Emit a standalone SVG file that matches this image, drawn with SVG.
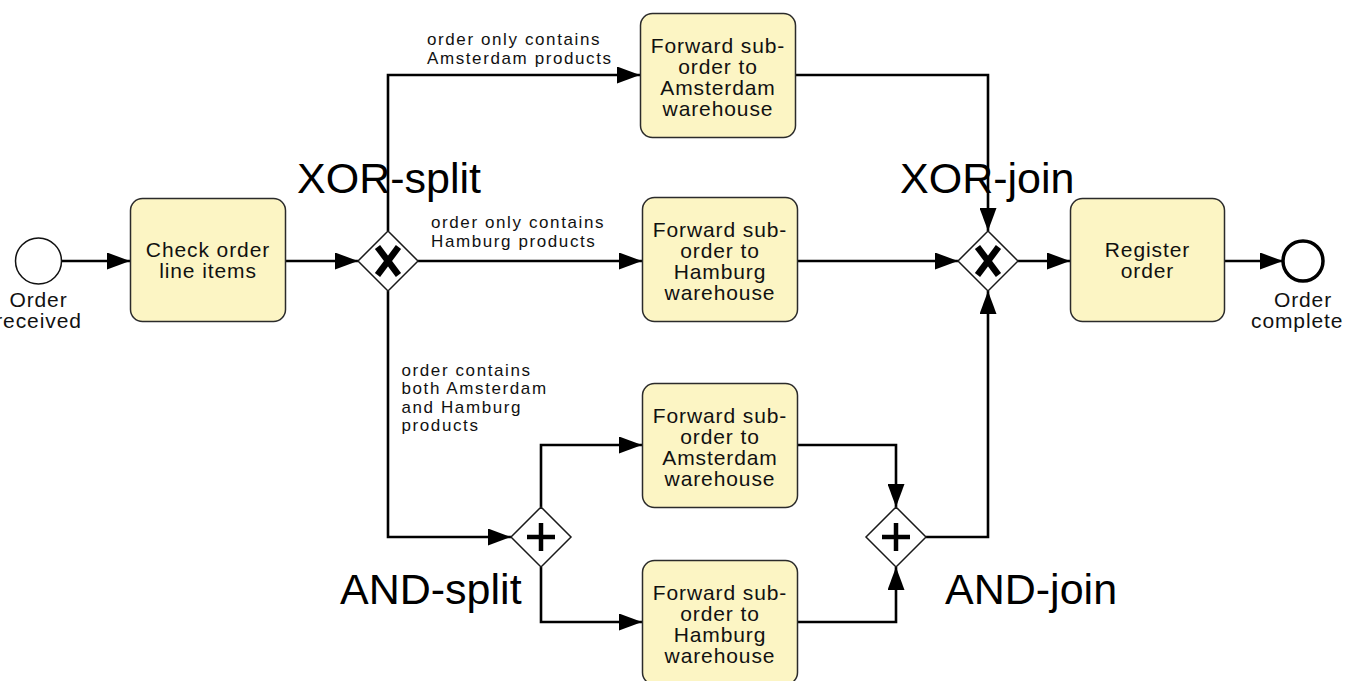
<svg xmlns="http://www.w3.org/2000/svg" width="1345" height="681" viewBox="0 0 1345 681">
  <style>
    .task { fill: #fcf5c4; stroke: #2b2b2b; stroke-width: 1.5; }
    .gw { fill: #ffffff; stroke: #1a1a1a; stroke-width: 1.5; }
    .flow { fill: none; stroke: #000000; stroke-width: 2.6; marker-end: url(#arrow); }
    .tt { font-family: "Liberation Sans", Arial, sans-serif; font-size: 21px; letter-spacing: 0.9px; fill: #111; text-anchor: middle; }
    .cond { font-family: "Liberation Sans", Arial, sans-serif; font-size: 17px; letter-spacing: 1.6px; fill: #111; }
    .big { font-family: "Liberation Sans", Arial, sans-serif; font-size: 43px; fill: #000; }
    .xmark { stroke: #000; stroke-width: 6.5; stroke-linecap: butt; }
    .pmark { stroke: #000; stroke-width: 4.5; }
  </style>
  <defs>
    <marker id="arrow" markerUnits="userSpaceOnUse" viewBox="0 0 23 17" refX="23" refY="8.5" markerWidth="23" markerHeight="17" orient="auto">
      <path d="M0,0 L23,8.5 L0,17 Z" fill="#000"/>
    </marker>
  </defs>

  <rect width="1345" height="681" fill="#ffffff"/>

  <!-- sequence flows -->
  <g id="connectors">
    <path class="flow" d="M61.5,261 H130"/>
    <path class="flow" d="M286,261 H358"/>
    <path class="flow" d="M388,231 V75 H640"/>
    <path class="flow" d="M418,261 H642"/>
    <path class="flow" d="M388,291 V537 H511"/>
    <path class="flow" d="M541,507 V445 H642"/>
    <path class="flow" d="M541,567 V622 H642"/>
    <path class="flow" d="M795,75 H988 V231"/>
    <path class="flow" d="M797,261 H958"/>
    <path class="flow" d="M797,445 H896 V507"/>
    <path class="flow" d="M797,622 H896 V567"/>
    <path class="flow" d="M926,537 H988 V291"/>
    <path class="flow" d="M1018,261 H1070"/>
    <path class="flow" d="M1224,261 H1283"/>
  </g>

  <!-- branch conditions -->
  <g id="conditions">
    <text class="cond" x="427" y="45">order only contains</text>
    <text class="cond" x="427" y="63.5">Amsterdam products</text>
    <text class="cond" x="431" y="228">order only contains</text>
    <text class="cond" x="431" y="246.5">Hamburg products</text>
    <text class="cond" x="401.5" y="376">order contains</text>
    <text class="cond" x="401.5" y="394.3">both Amsterdam</text>
    <text class="cond" x="401.5" y="412.6">and Hamburg</text>
    <text class="cond" x="401.5" y="430.9">products</text>
  </g>

  <g id="start">
    <circle cx="38.5" cy="261" r="23" fill="#fff" stroke="#111" stroke-width="1.5"/>
    <text class="tt" x="38.5" y="307">Order</text>
    <text class="tt" x="38.5" y="328">received</text>
  </g>

  <g id="checkItems">
    <rect class="task" x="130.5" y="198.5" width="155" height="123" rx="12"/>
    <text class="tt" x="208" y="257">Check order</text>
    <text class="tt" x="208" y="278">line items</text>
  </g>

  <g id="xorSplit">
    <polygon class="gw" points="388,231 418,261 388,291 358,261"/>
    <line class="xmark" x1="377.5" y1="247" x2="398.5" y2="275"/>
    <line class="xmark" x1="398.5" y1="247" x2="377.5" y2="275"/>
  </g>

  <g id="fwdAmsterdam1">
    <rect class="task" x="640.5" y="13.5" width="155" height="124" rx="12"/>
    <text class="tt" x="718" y="53">Forward sub-</text>
    <text class="tt" x="718" y="74">order to</text>
    <text class="tt" x="718" y="95">Amsterdam</text>
    <text class="tt" x="718" y="116">warehouse</text>
  </g>

  <g id="fwdHamburg1">
    <rect class="task" x="642.5" y="197.5" width="155" height="124" rx="12"/>
    <text class="tt" x="720" y="237">Forward sub-</text>
    <text class="tt" x="720" y="258">order to</text>
    <text class="tt" x="720" y="279">Hamburg</text>
    <text class="tt" x="720" y="300">warehouse</text>
  </g>

  <g id="andSplit">
    <polygon class="gw" points="541,507 571,537 541,567 511,537"/>
    <line class="pmark" x1="527" y1="537" x2="555" y2="537"/>
    <line class="pmark" x1="541" y1="523" x2="541" y2="551"/>
  </g>

  <g id="fwdAmsterdam2">
    <rect class="task" x="642.5" y="383.5" width="155" height="124" rx="12"/>
    <text class="tt" x="720" y="423">Forward sub-</text>
    <text class="tt" x="720" y="444">order to</text>
    <text class="tt" x="720" y="465">Amsterdam</text>
    <text class="tt" x="720" y="486">warehouse</text>
  </g>

  <g id="fwdHamburg2">
    <rect class="task" x="642.5" y="560.5" width="155" height="124" rx="12"/>
    <text class="tt" x="720" y="600">Forward sub-</text>
    <text class="tt" x="720" y="621">order to</text>
    <text class="tt" x="720" y="642">Hamburg</text>
    <text class="tt" x="720" y="663">warehouse</text>
  </g>

  <g id="andJoin">
    <polygon class="gw" points="896,507 926,537 896,567 866,537"/>
    <line class="pmark" x1="882" y1="537" x2="910" y2="537"/>
    <line class="pmark" x1="896" y1="523" x2="896" y2="551"/>
  </g>

  <g id="xorJoin">
    <polygon class="gw" points="988,231 1018,261 988,291 958,261"/>
    <line class="xmark" x1="977.5" y1="247" x2="998.5" y2="275"/>
    <line class="xmark" x1="998.5" y1="247" x2="977.5" y2="275"/>
  </g>

  <g id="registerOrder">
    <rect class="task" x="1070.5" y="198.5" width="154" height="123" rx="12"/>
    <text class="tt" x="1147.5" y="257">Register</text>
    <text class="tt" x="1147.5" y="278">order</text>
  </g>

  <g id="end">
    <circle cx="1303" cy="261" r="20" fill="#fff" stroke="#000" stroke-width="3.5"/>
    <text class="tt" x="1303" y="307">Order</text>
    <text class="tt" x="1251" y="328" style="text-anchor:start">complete</text>
  </g>

  <!-- gateway captions -->
  <g id="captions">
    <text class="big" x="297" y="193">XOR-split</text>
    <text class="big" x="900" y="193">XOR-join</text>
    <text class="big" x="340" y="604">AND-split</text>
    <text class="big" x="945" y="604">AND-join</text>
  </g>
</svg>
